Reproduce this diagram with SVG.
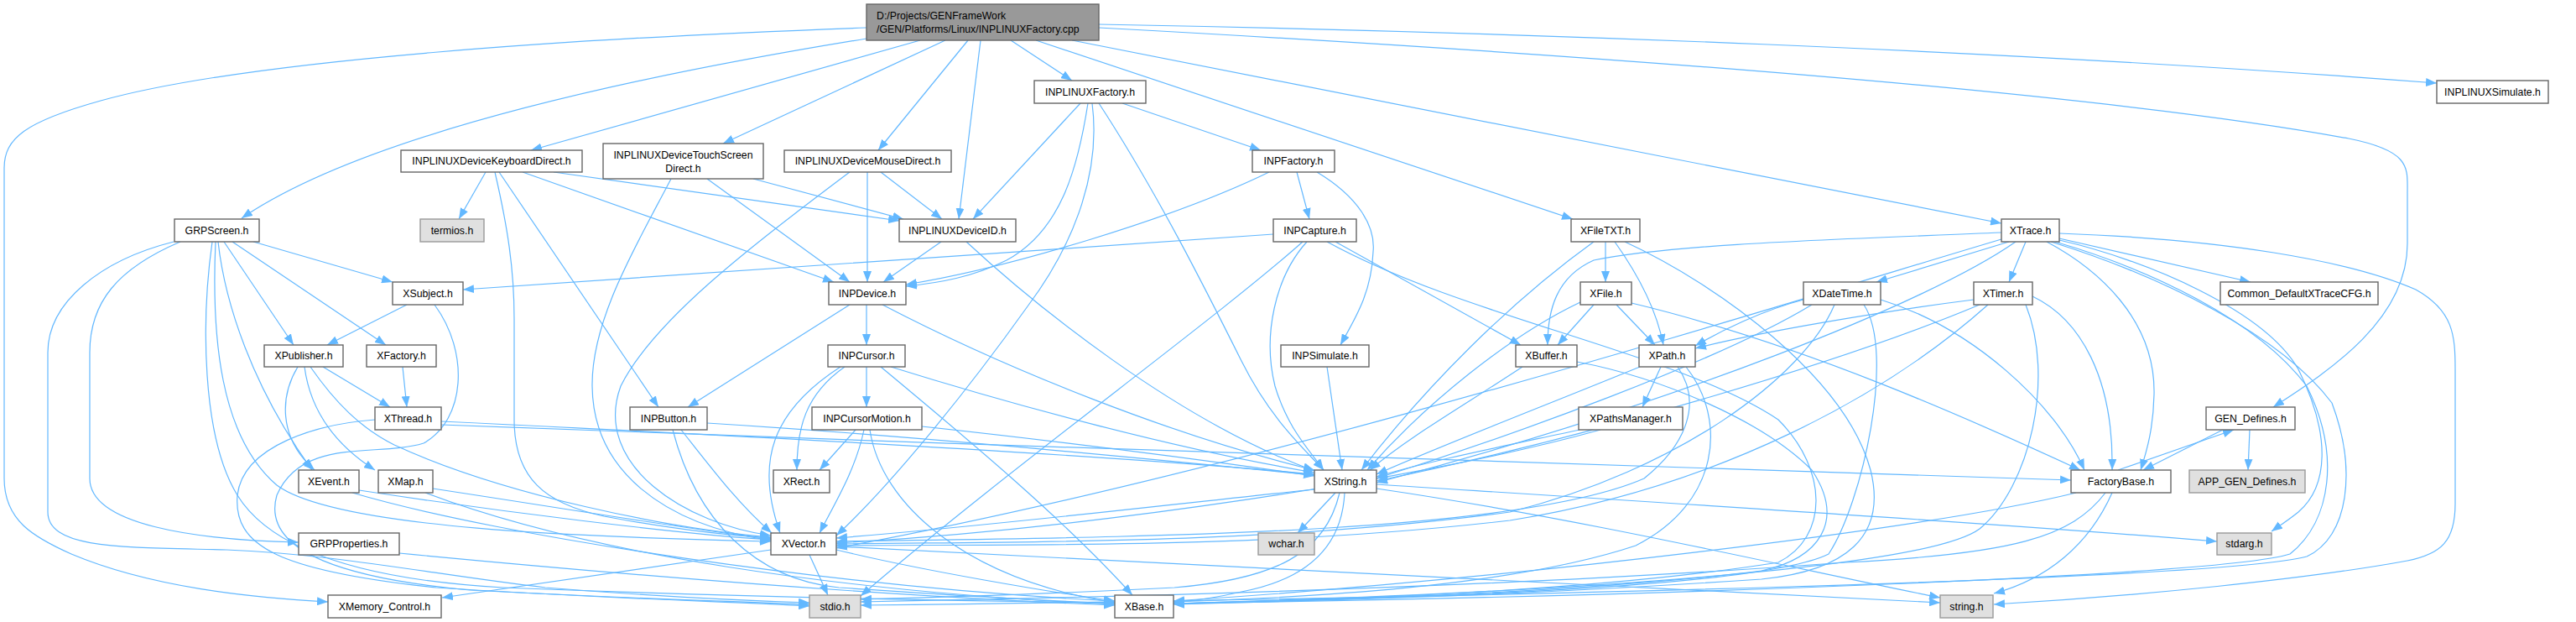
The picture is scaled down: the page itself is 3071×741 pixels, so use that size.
<svg xmlns="http://www.w3.org/2000/svg" width="3071" height="741" viewBox="0 0 3071 741">
<style>
.node rect{fill:#ffffff;stroke:#666666;stroke-width:1.4}
.node.sys rect{fill:#e0e0e0;stroke:#999999}
.node.root rect{fill:#999999;stroke:#666666}
.node text{font-family:"Liberation Sans",Arial,sans-serif;font-size:12.3px;fill:#000000;text-anchor:middle}
.node.root text{text-anchor:start}
#edges path{fill:none;stroke:#63b8ff;stroke-width:1.2;marker-end:url(#arr)}
</style>
<defs>
<marker id="arr" markerUnits="userSpaceOnUse" markerWidth="13" markerHeight="10" refX="13" refY="5" orient="auto">
<path d="M0,0 L13,5 L0,10 z" fill="#63b8ff"/>
</marker>
</defs>
<rect width="3071" height="741" fill="#ffffff"/>
<g id="edges">
<path d="M1033,46 C700,100 420,170 288,260"/>
<path d="M1097,48 L633,179"/>
<path d="M1127,48 L862,171"/>
<path d="M1154,48 L1047,179"/>
<path d="M1169,48 L1143,261"/>
<path d="M1205,48 L1278,96"/>
<path d="M1235,48 L1875,261"/>
<path d="M1278,48 L2386,266"/>
<path d="M1310,29 C1800,38 2400,60 2905,99"/>
<path d="M1310,33 C1900,65 2500,110 2800,165 C2875,180 2870,200 2870,230 L2870,290 C2870,380 2780,440 2710,485"/>
<path d="M1033,33 C700,45 300,70 120,120 C30,145 5,165 5,200 L5,570 C5,620 40,640 85,660 C180,700 300,712 391,717"/>
<path d="M1338,123 L1503,179"/>
<path d="M1288,123 L1160,261"/>
<path d="M1297,123 C1285,200 1265,275 1200,310 C1160,330 1120,337 1080,341"/>
<path d="M1302,123 C1312,200 1285,285 1225,365 C1150,470 1060,580 997,638"/>
<path d="M1310,123 C1380,230 1440,350 1480,430 C1515,500 1555,535 1578,560"/>
<path d="M579,205 L547,261"/>
<path d="M590,205 C605,270 613,320 613,380 L613,500 C613,570 650,600 720,615 C800,630 870,638 919,641"/>
<path d="M595,205 L785,485"/>
<path d="M623,205 L994,336"/>
<path d="M660,205 L1072,263"/>
<path d="M800,213 C760,290 705,380 706,460 C707,560 790,625 919,644"/>
<path d="M843,213 L1013,336"/>
<path d="M898,213 L1077,261"/>
<path d="M1013,205 C900,290 780,380 740,460 C705,555 820,625 919,638"/>
<path d="M1034,205 L1034,336"/>
<path d="M1050,205 L1123,261"/>
<path d="M1546,205 L1561,261"/>
<path d="M1513,205 C1400,260 1200,320 1080,339"/>
<path d="M1570,205 C1620,235 1640,270 1637,300 C1635,350 1615,380 1598,411"/>
<path d="M1122,288 L1053,336"/>
<path d="M1152,288 C1230,360 1400,500 1567,561"/>
<path d="M302,288 L468,336"/>
<path d="M267,288 L350,411"/>
<path d="M277,288 L460,411"/>
<path d="M260,288 C268,360 300,460 372,560"/>
<path d="M257,288 C252,400 262,520 330,578 C400,630 700,640 919,645"/>
<path d="M253,288 C240,380 240,520 283,590 C320,650 420,690 600,700 C900,712 1150,716 1329,718"/>
<path d="M215,288 C140,320 107,360 107,420 L107,570 C107,625 230,643 356,646"/>
<path d="M207,288 C120,310 57,360 57,420 L57,610 C57,655 150,652 270,655 C400,660 520,685 650,700 C800,712 900,716 965,718"/>
<path d="M485,363 L390,411"/>
<path d="M518,363 C560,420 555,500 505,528 C450,545 360,520 330,590 C310,660 420,690 560,703 C750,713 880,717 965,720"/>
<path d="M385,437 L465,485"/>
<path d="M355,437 C335,470 330,520 375,560"/>
<path d="M363,437 C370,490 400,530 447,560"/>
<path d="M370,437 C400,480 430,510 470,530 C600,590 800,630 919,640"/>
<path d="M480,437 L485,485"/>
<path d="M447,500 C380,505 290,530 283,590 C278,650 330,680 520,700 C700,712 850,716 965,722"/>
<path d="M526,502 C800,515 1300,540 1567,565"/>
<path d="M526,506 C1200,535 2000,550 2469,572"/>
<path d="M428,584 C600,610 800,635 919,643"/>
<path d="M420,587 C600,640 1000,700 1329,716"/>
<path d="M516,582 C700,610 850,635 919,642"/>
<path d="M507,587 C700,660 1000,705 1329,720"/>
<path d="M476,659 C800,690 1100,712 1329,721"/>
<path d="M965,661 L987,709"/>
<path d="M919,655 L527,712"/>
<path d="M997,655 C1100,680 1250,705 1329,716"/>
<path d="M997,651 C1500,680 2000,700 2313,718"/>
<path d="M1592,587 L1547,635"/>
<path d="M1567,583 C1400,600 1200,625 997,641"/>
<path d="M1603,587 C1600,650 1560,690 1480,705 C1450,712 1420,716 1399,718"/>
<path d="M1597,587 C1580,660 1520,690 1400,700 C1250,708 1100,712 1026,714"/>
<path d="M1641,582 C1900,620 2150,680 2313,712"/>
<path d="M1641,577 C2000,600 2400,625 2643,645"/>
<path d="M1582,437 L1600,560"/>
<path d="M1518,279 C1200,300 800,330 552,345"/>
<path d="M1592,288 L1813,411"/>
<path d="M1558,288 C1520,330 1505,400 1520,460 C1535,510 1560,535 1578,560"/>
<path d="M1553,288 C1450,380 1200,560 1026,710"/>
<path d="M1582,288 C1750,380 2000,420 2120,500 C2180,560 2180,640 2120,670 C1900,705 1600,714 1399,719"/>
<path d="M1033,363 L1033,411"/>
<path d="M1013,363 L820,485"/>
<path d="M1052,363 C1200,440 1400,520 1567,560"/>
<path d="M1033,437 L1033,485"/>
<path d="M1007,437 C960,470 950,510 950,560"/>
<path d="M1002,437 C920,490 900,550 930,635"/>
<path d="M1062,437 C1200,480 1400,535 1567,563"/>
<path d="M1050,437 C1150,520 1270,620 1350,709"/>
<path d="M1020,512 L977,560"/>
<path d="M1030,512 C1020,560 995,600 977,635"/>
<path d="M1099,508 C1300,530 1450,550 1567,567"/>
<path d="M1037,512 C1050,600 1150,690 1329,718"/>
<path d="M843,504 C1100,520 1350,545 1567,566"/>
<path d="M812,512 C850,560 880,600 920,635"/>
<path d="M802,512 C830,620 900,690 1000,700 C1150,710 1250,716 1329,719"/>
<path d="M1815,437 C1750,480 1680,520 1633,560"/>
<path d="M1880,431 C1980,450 2100,500 2160,560 C2200,620 2170,665 2100,680 C1900,705 1600,715 1399,720"/>
<path d="M1980,437 L1958,485"/>
<path d="M1955,437 C1850,480 1720,530 1641,565"/>
<path d="M2000,437 C2030,480 2010,530 1960,570 C1800,640 1300,640 997,645"/>
<path d="M2010,437 C2060,500 2050,600 1950,650 C1800,700 1550,712 1399,717"/>
<path d="M1883,512 C1800,530 1700,550 1641,568"/>
<path d="M1908,512 C1700,570 1300,630 997,647"/>
<path d="M1900,363 L1857,411"/>
<path d="M1927,363 L1973,411"/>
<path d="M1884,360 C1800,400 1700,480 1630,560"/>
<path d="M1945,361 C2150,410 2350,500 2480,560"/>
<path d="M1914,288 L1914,336"/>
<path d="M1925,288 C1955,330 1975,370 1983,411"/>
<path d="M1900,288 C1800,360 1700,460 1623,560"/>
<path d="M1937,288 C2050,340 2200,450 2230,560 C2250,640 2200,680 2100,690 C1800,710 1600,715 1399,719"/>
<path d="M2150,357 C2100,370 2050,395 2021,412"/>
<path d="M2160,363 C2050,430 1800,520 1641,570"/>
<path d="M2187,363 C2150,450 2000,560 1800,610 C1500,650 1200,645 997,648"/>
<path d="M2242,357 C2350,390 2450,480 2485,560"/>
<path d="M2222,363 C2260,420 2220,600 2180,660 C2100,700 1700,712 1399,719"/>
<path d="M2353,357 C2250,370 2100,395 2021,415"/>
<path d="M2360,363 C2200,430 1900,520 1641,573"/>
<path d="M2370,363 C2250,470 2050,580 1800,620 C1500,655 1200,648 997,650"/>
<path d="M2423,353 C2480,380 2520,450 2518,560"/>
<path d="M2415,363 C2450,450 2420,580 2360,630 C2300,675 1900,705 1399,719"/>
<path d="M2395,288 L2237,336"/>
<path d="M2415,288 L2395,336"/>
<path d="M2455,284 L2683,336"/>
<path d="M2386,277 C2200,285 2000,290 1900,310 C1855,330 1845,370 1845,411"/>
<path d="M2455,278 C2650,285 2800,310 2880,345 C2925,370 2927,400 2927,440 L2927,600 C2927,645 2910,660 2870,668 C2750,690 2550,710 2377,720"/>
<path d="M2455,286 C2560,310 2700,370 2740,440 C2780,520 2775,580 2740,610 C2725,622 2715,628 2708,633"/>
<path d="M2403,288 C2300,360 2000,480 1641,575"/>
<path d="M2386,285 C2100,370 1500,560 997,653"/>
<path d="M2450,288 C2560,320 2690,380 2750,460 C2790,540 2780,620 2730,660 C2650,685 2000,710 1399,719"/>
<path d="M2445,288 C2580,330 2720,400 2780,480 C2810,560 2800,640 2750,663 C2650,690 1800,712 1026,721"/>
<path d="M2440,288 C2500,320 2570,380 2568,470 C2567,510 2560,535 2552,560"/>
<path d="M2525,560 L2663,512"/>
<path d="M2650,512 L2555,560"/>
<path d="M2682,512 L2680,560"/>
<path d="M2475,587 C2300,630 1800,690 1399,716"/>
<path d="M2510,587 C2470,640 2400,660 2200,670 C1800,700 1300,712 1026,717"/>
<path d="M2518,587 C2490,650 2440,690 2377,707"/>
</g>
<g id="n_root" class="node root"><rect x="1033" y="5" width="277" height="43"/><text x="1045" y="23">D:/Projects/GENFrameWork</text><text x="1045" y="39">/GEN/Platforms/Linux/INPLINUXFactory.cpp</text></g>
<g id="n_INPLINUXFactory" class="node"><rect x="1233" y="96" width="133" height="27"/><text x="1299.5" y="114">INPLINUXFactory.h</text></g>
<g id="n_INPLINUXSimulate" class="node"><rect x="2905" y="96" width="133" height="27"/><text x="2971.5" y="114">INPLINUXSimulate.h</text></g>
<g id="n_Keyboard" class="node"><rect x="478" y="179" width="216" height="26"/><text x="586" y="196">INPLINUXDeviceKeyboardDirect.h</text></g>
<g id="n_Touch" class="node"><rect x="719" y="171" width="191" height="42"/><text x="814.5" y="189">INPLINUXDeviceTouchScreen</text><text x="814.5" y="205">Direct.h</text></g>
<g id="n_Mouse" class="node"><rect x="935" y="179" width="199" height="26"/><text x="1034.5" y="196">INPLINUXDeviceMouseDirect.h</text></g>
<g id="n_INPFactory" class="node"><rect x="1493" y="179" width="98" height="26"/><text x="1542" y="196">INPFactory.h</text></g>
<g id="n_GRPScreen" class="node"><rect x="208" y="261" width="101" height="27"/><text x="258.5" y="279">GRPScreen.h</text></g>
<g id="n_termios" class="node sys"><rect x="501" y="261" width="76" height="27"/><text x="539" y="279">termios.h</text></g>
<g id="n_DeviceID" class="node"><rect x="1072" y="261" width="139" height="27"/><text x="1141.5" y="279">INPLINUXDeviceID.h</text></g>
<g id="n_INPCapture" class="node"><rect x="1518" y="261" width="99" height="27"/><text x="1567.5" y="279">INPCapture.h</text></g>
<g id="n_XFileTXT" class="node"><rect x="1873" y="261" width="82" height="27"/><text x="1914" y="279">XFileTXT.h</text></g>
<g id="n_XTrace" class="node"><rect x="2386" y="261" width="69" height="27"/><text x="2420.5" y="279">XTrace.h</text></g>
<g id="n_XSubject" class="node"><rect x="468" y="336" width="84" height="27"/><text x="510" y="354">XSubject.h</text></g>
<g id="n_INPDevice" class="node"><rect x="988" y="336" width="92" height="27"/><text x="1034" y="354">INPDevice.h</text></g>
<g id="n_XFile" class="node"><rect x="1884" y="336" width="61" height="27"/><text x="1914.5" y="354">XFile.h</text></g>
<g id="n_XDateTime" class="node"><rect x="2150" y="336" width="92" height="27"/><text x="2196" y="354">XDateTime.h</text></g>
<g id="n_XTimer" class="node"><rect x="2353" y="336" width="70" height="27"/><text x="2388" y="354">XTimer.h</text></g>
<g id="n_CommonCFG" class="node"><rect x="2647" y="336" width="188" height="27"/><text x="2741" y="354">Common_DefaultXTraceCFG.h</text></g>
<g id="n_XPublisher" class="node"><rect x="315" y="411" width="94" height="26"/><text x="362" y="428">XPublisher.h</text></g>
<g id="n_XFactory" class="node"><rect x="437" y="411" width="83" height="26"/><text x="478.5" y="428">XFactory.h</text></g>
<g id="n_INPCursor" class="node"><rect x="987" y="411" width="92" height="26"/><text x="1033" y="428">INPCursor.h</text></g>
<g id="n_INPSimulate" class="node"><rect x="1527" y="411" width="105" height="26"/><text x="1579.5" y="428">INPSimulate.h</text></g>
<g id="n_XBuffer" class="node"><rect x="1807" y="411" width="73" height="26"/><text x="1843.5" y="428">XBuffer.h</text></g>
<g id="n_XPath" class="node"><rect x="1954" y="411" width="67" height="26"/><text x="1987.5" y="428">XPath.h</text></g>
<g id="n_XThread" class="node"><rect x="447" y="485" width="79" height="27"/><text x="486.5" y="503">XThread.h</text></g>
<g id="n_INPButton" class="node"><rect x="751" y="485" width="92" height="27"/><text x="797" y="503">INPButton.h</text></g>
<g id="n_INPCursorMotion" class="node"><rect x="968" y="485" width="131" height="27"/><text x="1033.5" y="503">INPCursorMotion.h</text></g>
<g id="n_XPathsManager" class="node"><rect x="1882" y="485" width="124" height="27"/><text x="1944" y="503">XPathsManager.h</text></g>
<g id="n_GEN_Defines" class="node"><rect x="2630" y="485" width="106" height="27"/><text x="2683" y="503">GEN_Defines.h</text></g>
<g id="n_XEvent" class="node"><rect x="356" y="560" width="72" height="27"/><text x="392" y="578">XEvent.h</text></g>
<g id="n_XMap" class="node"><rect x="451" y="560" width="65" height="27"/><text x="483.5" y="578">XMap.h</text></g>
<g id="n_XRect" class="node"><rect x="922" y="560" width="67" height="27"/><text x="955.5" y="578">XRect.h</text></g>
<g id="n_XString" class="node"><rect x="1567" y="560" width="74" height="27"/><text x="1604" y="578">XString.h</text></g>
<g id="n_FactoryBase" class="node"><rect x="2469" y="560" width="119" height="27"/><text x="2528.5" y="578">FactoryBase.h</text></g>
<g id="n_APP_GEN_Defines" class="node sys"><rect x="2610" y="560" width="138" height="27"/><text x="2679" y="578">APP_GEN_Defines.h</text></g>
<g id="n_GRPProperties" class="node"><rect x="356" y="635" width="120" height="26"/><text x="416" y="652">GRPProperties.h</text></g>
<g id="n_XVector" class="node"><rect x="919" y="635" width="78" height="26"/><text x="958" y="652">XVector.h</text></g>
<g id="n_wchar" class="node sys"><rect x="1500" y="635" width="67" height="26"/><text x="1533.5" y="652">wchar.h</text></g>
<g id="n_stdarg" class="node sys"><rect x="2643" y="635" width="65" height="26"/><text x="2675.5" y="652">stdarg.h</text></g>
<g id="n_XMemory_Control" class="node"><rect x="391" y="709" width="135" height="27"/><text x="458.5" y="727">XMemory_Control.h</text></g>
<g id="n_stdio" class="node sys"><rect x="965" y="709" width="61" height="27"/><text x="995.5" y="727">stdio.h</text></g>
<g id="n_XBase" class="node"><rect x="1329" y="709" width="70" height="27"/><text x="1364" y="727">XBase.h</text></g>
<g id="n_string" class="node sys"><rect x="2313" y="709" width="63" height="27"/><text x="2344.5" y="727">string.h</text></g>
</svg>
